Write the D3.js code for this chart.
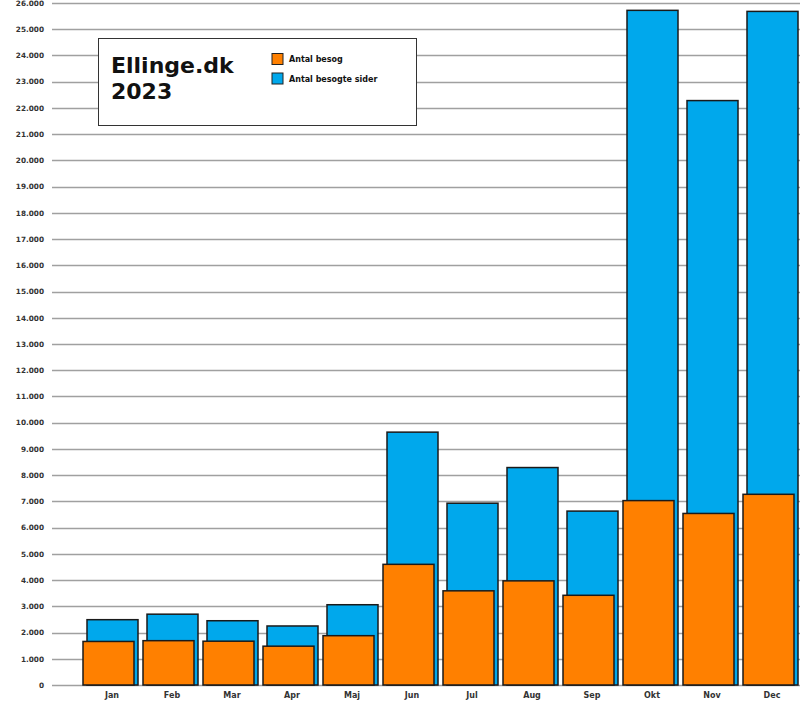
<!DOCTYPE html>
<html lang="da">
<head>
  <meta charset="UTF-8">
  <title>Ellinge.dk 2023</title>
  <script src="https://d3js.org/d3.v7.min.js"></script>
  <style>
    body {
      margin: 0;
      background: #fff;
      font-family: "DejaVu Sans", Verdana, sans-serif;
    }

    .tick-label {
      font-size: 8px;
      font-weight: bold;
      fill: #333;
    }

    .y-label {
      font-size: 7.3px;
    }

    .grid line {
      stroke: #a0a0a0;
      stroke-width: 1.5;
    }

    .bar {
      stroke: #1a1a1a;
      stroke-width: 1.5;
    }
  </style>
</head>
<body>

<script>
  // Data
  var months = ["Jan", "Feb", "Mar", "Apr", "Maj", "Jun", "Jul", "Aug", "Sep", "Okt", "Nov", "Dec"];
  var visits = [1660, 1690, 1670, 1480, 1880, 4600, 3590, 3970, 3420, 7030, 6540, 7270];
  var pageViews = [2490, 2700, 2450, 2250, 3060, 9640, 6930, 8290, 6630, 25720, 22280, 25680];
  var yTicks = d3.range(0, 27000, 1000);
  var seriesNames = ["Antal besog", "Antal besogte sider"];
  var seriesColors = ["#ff8000", "#00a8ec"];
  var titleLines = ["Ellinge.dk", "2023"];

  var width = 800, height = 719;

  var svg = d3.select("body")
              .append("svg")
              .attr("width", width)
              .attr("height", height);

  // Scales
  var x = d3.scaleBand()
            .domain(months)
            .range([82, 802]);

  var y = d3.scaleLinear()
            .domain([0, 26000])
            .range([685, 3]);

  var nf = d3.formatLocale({ decimal: ",", thousands: ".", grouping: [3], currency: ["", ""] }).format(",");

  // Grid lines
  var grid = svg.append("g").attr("class", "grid");
  grid.selectAll("line")
      .data(yTicks)
      .enter()
      .append("line")
      .attr("x1", 52)
      .attr("x2", width)
      .attr("y1", d => Math.round(y(d)) + 0.5)
      .attr("y2", d => Math.round(y(d)) + 0.5);

  // Y labels
  svg.selectAll(".ylab")
     .data(yTicks)
     .enter()
     .append("text")
     .attr("class", "tick-label y-label")
     .attr("x", 44)
     .attr("y", d => y(d) + 2.8)
     .attr("text-anchor", "end")
     .text(d => nf(d));

  var barW = x.bandwidth() * 0.85;

  // Blue bars (behind)
  svg.selectAll(".blue")
     .data(pageViews)
     .enter()
     .append("rect")
     .attr("class", "bar")
     .attr("fill", seriesColors[1])
     .attr("x", (d, i) => x(months[i]) + 5)
     .attr("y", d => y(d))
     .attr("width", barW)
     .attr("height", d => y(0) - y(d));

  // Orange bars (front)
  svg.selectAll(".orange")
     .data(visits)
     .enter()
     .append("rect")
     .attr("class", "bar")
     .attr("fill", seriesColors[0])
     .attr("x", (d, i) => x(months[i]) + 1)
     .attr("y", d => y(d))
     .attr("width", barW)
     .attr("height", d => y(0) - y(d));

  // X labels
  svg.selectAll(".xlab")
     .data(months)
     .enter()
     .append("text")
     .attr("class", "tick-label")
     .attr("x", d => x(d) + x.bandwidth() / 2)
     .attr("y", 698)
     .attr("text-anchor", "middle")
     .text(d => d);

  // Title / legend box
  var box = svg.append("g");
  box.append("rect")
     .attr("x", 98.5)
     .attr("y", 38.5)
     .attr("width", 318)
     .attr("height", 87)
     .attr("fill", "#fff")
     .attr("stroke", "#333")
     .attr("stroke-width", 1);

  box.selectAll(".title")
     .data(titleLines)
     .enter()
     .append("text")
     .attr("x", 111)
     .attr("y", (d, i) => 72.5 + i * 26.5)
     .attr("font-size", "22px")
     .attr("font-weight", "bold")
     .attr("fill", "#111")
     .text(d => d);

  var leg = box.selectAll(".leg")
               .data(seriesNames)
               .enter()
               .append("g")
               .attr("transform", (d, i) => `translate(272,${53.5 + i * 19.5})`);

  leg.append("rect")
     .attr("width", 11)
     .attr("height", 11)
     .attr("fill", (d, i) => seriesColors[i])
     .attr("stroke", "#222")
     .attr("stroke-width", 1);

  leg.append("text")
     .attr("x", 17)
     .attr("y", 8.5)
     .attr("font-size", "8px")
     .attr("font-weight", "bold")
     .attr("fill", "#111")
     .text(d => d);
</script>

</body>
</html>
